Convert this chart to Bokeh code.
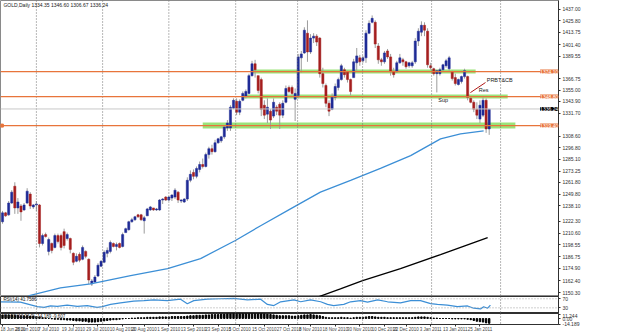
from bokeh.plotting import figure
from bokeh.models import Range1d, LinearAxis, FixedTicker, Span, Label, ColumnDataSource, PrintfTickFormatter
from bokeh.layouts import column
from bokeh.embed import file_html
from bokeh.resources import INLINE

# ---------------- data ----------------
opens = [1222,1231,1229,1241,1258,1236,1238,1234,1241,1250,1237,1239,1239,1200,1209,1192,1200,1196,1208,1208,
         1212,1205,1205,1190,1182,1189,1184,1192,1184,1159,1161,1167,1177,1181,1190,1192,1200,1197,1200,1197,
         1211,1214,1222,1224,1229,1229,1223,1228,1234,1236,1234,1234,1244,1247,1244,1246,1247,1252,1243,1242,
         1245,1264,1272,1268,1275,1280,1278,1290,1296,1293,1302,1304,1308,1317,1317,1337,1344,1333,1345,1349,
         1352,1370,1382,1370,1366,1340,1331,1334,1329,1338,1341,1330,1343,1358,1358,1346,1350,1388,1393,1413,
         1394,1408,1410,1408,1372,1360,1342,1336,1348,1358,1366,1376,1374,1366,1368,1383,1388,1385,1388,1413,
         1424,1424,1400,1386,1384,1395,1389,1374,1374,1383,1386,1384,1380,1380,1384,1405,1414,1421,1415,1380,
         1377,1372,1372,1376,1380,1377,1374,1368,1361,1364,1369,1369,1347,1343,1336,1326,1330,1345,1316]
highs = [1233,1232,1243,1254,1262,1246,1240,1241,1256,1252,1240,1243,1240,1210,1211,1206,1201,1210,1210,1210,
         1215,1211,1206,1191,1190,1191,1198,1193,1185,1164,1168,1180,1183,1193,1196,1203,1201,1201,1201,1211,
         1216,1223,1226,1228,1230,1230,1228,1236,1238,1236,1236,1245,1246,1248,1248,1250,1256,1253,1245,1246,
         1267,1274,1275,1278,1283,1286,1292,1298,1300,1305,1307,1309,1320,1325,1340,1347,1347,1346,1354,1356,
         1372,1385,1386,1370,1368,1345,1347,1336,1347,1340,1343,1345,1360,1360,1360,1357,1392,1395,1419,1426,
         1412,1413,1412,1409,1378,1362,1345,1352,1362,1368,1382,1378,1375,1367,1387,1398,1391,1390,1416,1426,
         1431,1426,1403,1388,1395,1397,1392,1378,1385,1392,1388,1385,1384,1385,1408,1418,1425,1424,1418,1383,
         1378,1376,1378,1382,1387,1390,1375,1372,1367,1370,1377,1370,1348,1345,1343,1345,1348,1347,1335]
lows = [1220,1227,1228,1240,1230,1230,1223,1233,1240,1235,1235,1233,1196,1198,1206,1188,1190,1195,1200,1193,
        1195,1203,1190,1178,1181,1181,1183,1185,1159,1157,1160,1166,1176,1180,1186,1190,1196,1193,1195,1196,
        1211,1213,1221,1223,1226,1223,1210,1228,1233,1233,1233,1233,1240,1243,1243,1243,1245,1241,1241,1241,
        1243,1262,1265,1266,1272,1276,1277,1286,1290,1292,1301,1302,1306,1314,1314,1336,1330,1330,1344,1347,
        1351,1369,1368,1352,1329,1326,1322,1316,1327,1330,1316,1327,1342,1352,1350,1324,1347,1373,1392,1384,
        1392,1403,1400,1368,1358,1338,1329,1335,1345,1355,1365,1368,1363,1350,1368,1375,1380,1383,1383,1412,
        1423,1398,1382,1380,1382,1387,1370,1368,1373,1382,1380,1377,1378,1378,1382,1400,1410,1410,1378,1376,
        1370,1353,1370,1375,1378,1375,1365,1360,1360,1362,1367,1345,1342,1333,1326,1322,1328,1312,1310]
closes = [1231,1228,1241,1252,1236,1242,1232,1239,1253,1238,1239,1240,1200,1208,1207,1204,1193,1208,1202,1196,
          1198,1209,1194,1181,1187,1183,1196,1187,1163,1162,1166,1178,1182,1191,1193,1201,1197,1199,1196,1209,
          1215,1222,1224,1227,1227,1224,1226,1235,1237,1234,1235,1244,1245,1244,1247,1249,1254,1244,1244,1245,
          1264,1270,1268,1276,1280,1278,1290,1296,1293,1302,1306,1308,1318,1322,1338,1345,1333,1344,1352,1354,
          1370,1382,1376,1355,1336,1330,1338,1325,1343,1334,1330,1342,1357,1354,1352,1352,1389,1392,1416,1394,
          1408,1410,1404,1372,1362,1342,1334,1349,1359,1366,1380,1371,1366,1354,1384,1390,1384,1388,1413,1423,
          1428,1402,1386,1384,1393,1389,1374,1371,1383,1388,1384,1379,1383,1383,1405,1415,1421,1416,1381,1378,
          1372,1375,1376,1381,1385,1388,1367,1362,1366,1369,1375,1348,1343,1336,1330,1340,1345,1316,1336]

# moving averages
ma_blue_x = [8.4, 18.8, 28.6, 41.6, 53.6, 64.3, 75.6, 83.8, 93.5, 103.2, 113, 122.7, 132.5, 142.2, 148.7, 156.2]
ma_blue_y = [1147, 1155, 1159, 1167.5, 1174.6, 1184.7, 1203, 1218, 1235, 1252, 1264, 1276, 1289, 1306, 1311, 1314]
ma_black_x = [102.6, 109.7, 116.9, 129.2, 142.2, 157.5]
ma_black_y = [1146, 1154, 1162.4, 1174.6, 1188.8, 1206]

rsi_x = [-0.6, 5.8, 11.3, 13.5, 15.6, 17.8, 21, 24.3, 27.5, 30.7, 32.4, 35.1, 38.3, 42.6, 45.9, 49.1, 53.5, 57.8,
         60, 62.1, 66.5, 70.8, 75.1, 79.5, 83.8, 86, 88.1, 90.3, 94.6, 96.8, 100, 103.3, 105.5, 107.5, 110.8, 113,
         116.2, 118.5, 121.8, 125, 129.2, 132.5, 135.7, 139, 141.2, 144.4, 147.7, 151, 153, 155.2, 156.2, 157.5, 158.4]
rsi_v = [56.7, 55, 35, 31.7, 38.3, 36.7, 41.7, 36.7, 40, 31.7, 35, 45, 51.7, 60, 61.7, 65, 61.7, 68.3,
         48.3, 61.7, 68.3, 70, 71.7, 65, 68.3, 45, 40, 56.7, 65, 56.7, 65, 56.7, 45, 40, 45, 56.7,
         61.7, 55, 65, 56.7, 51.7, 61.7, 61.7, 48.3, 45, 41.7, 35, 38.3, 28.3, 25, 35, 28.3, 41.7]

macd = [9,9,9,9,8,8,7,7,7,6,6,5,4,
        2,1,0,-1,-2,-2,-3,-3,-4,-4,-5,-6,-6,-7,-7,-9,-9,-9,
        -8,-7,-6,-5,-4,-3,-3,-2,-1,0,0,1,1,2,2,
        2,3,3,3,3,4,4,4,4,5,5,5,5,5,6,
        7,7,8,8,8,9,9,10,10,10,11,11,12,12,13,13,13,14,14,15,
        15,15,14,13,12,11,10,9,8,7,7,7,7,6,6,
        7,8,9,9,10,9,8,7,5,3,2,2,2,2,3,
        2,2,1,2,3,3,3,4,5,5,4,3,3,3,2,2,2,2,2,2,2,2,2,3,
        4,4,4,3,2,1,1,0,0,0,0,-1,-1,-1,-1,-1,-2,-3,-5,-7,-8,-9,-11,-12]

date_labels = ["18 Jun 2010", "28 Jun 2010", "7 Jul 2010", "19 Jul 2010", "29 Jul 2010", "10 Aug 2010",
               "20 Aug 2010", "1 Sep 2010", "13 Sep 2010", "23 Sep 2010", "5 Oct 2010", "15 Oct 2010",
               "27 Oct 2010", "8 Nov 2010", "18 Nov 2010", "30 Nov 2010", "10 Dec 2010", "22 Dec 2010",
               "3 Jan 2011", "13 Jan 2011", "25 Jan 2011"]
date_ticks = [0, 8, 15, 23, 31, 39, 46, 54, 62, 70, 77, 85, 93, 100, 108, 116, 124, 131, 139, 147, 155]

price_ticks = [1437.00, 1425.80, 1413.75, 1401.40, 1389.55, 1366.75, 1355.00, 1343.90, 1331.70, 1308.60,
               1296.80, 1285.10, 1273.25, 1261.80, 1249.80, 1238.10, 1222.30, 1210.60, 1198.55, 1186.75,
               1174.90, 1162.40, 1150.30]

levels = [1374.1, 1348.8, 1319.4]
level_labels = ["1374.10", "1348.80", "1319.40"]
band_start = [81, 78, 65]
band_end = [153.6, 164, 166.5]
bid = 1336.24
grid_x = [11, 32.5, 54, 75.7, 95.8, 116.9, 139.3, 161.7]

# ---------------- drawing ----------------
FONT = "Liberation Sans"
XR = Range1d(-0.65, 180.5)
BLUE_LINE = "#3c8fd6"
ORANGE = "#e8743b"


def panel(height, yr, bottom=0):
    p = figure(width=625, height=height, x_range=XR, y_range=yr, output_backend="svg",
               toolbar_location=None, x_axis_location=None, y_axis_location=None,
               min_border_left=0, min_border_top=0, min_border_bottom=bottom, min_border_right=67)
    p.xgrid.visible = False
    p.ygrid.visible = False
    p.background_fill_color = "white"
    p.border_fill_color = "white"
    p.outline_line_color = "#303030"
    p.outline_line_width = 1
    for g in grid_x:
        p.add_layout(Span(location=g, dimension="height", line_color="#707070",
                          line_dash="1 2", line_width=1))
    return p


def right_axis(p, ticks, fmt=None, overrides=None):
    ax = LinearAxis(ticker=FixedTicker(ticks=ticks))
    if fmt:
        ax.formatter = PrintfTickFormatter(format=fmt)
    if overrides:
        ax.major_label_overrides = overrides
    ax.major_label_text_font = FONT
    ax.major_label_text_font_size = "5px"
    ax.major_label_text_color = "#303030"
    ax.major_tick_out = 2
    ax.major_tick_in = 0
    ax.minor_tick_out = 0
    ax.minor_tick_in = 0
    ax.major_label_standoff = 2
    ax.axis_line_color = "#303030"
    ax.major_tick_line_color = "#303030"
    p.add_layout(ax, "right")
    return ax


# main chart
main = panel(296, Range1d(1146.3, 1446.1))
main.outline_line_color = "#8a8a8a"
right_axis(main, price_ticks, fmt="%.2f")

idx = list(range(len(closes)))
tops = [max(o, c) for o, c in zip(opens, closes)]
bots = [min(o, c) for o, c in zip(opens, closes)]
cols = ["#1f2b96" if c >= o else "#a51e1e" for o, c in zip(opens, closes)]
src = ColumnDataSource(dict(x=idx, h=highs, l=lows, t=tops, b=bots, c=cols))

main.add_layout(Span(location=bid, dimension="width", line_color="#c8c8c8", line_width=1))
main.segment(x0=band_start, x1=band_end, y0=levels, y1=levels, line_color="#8fe06a",
             line_width=[4, 4, 6], line_alpha=0.9)
for lv in levels:
    main.add_layout(Span(location=lv, dimension="width", line_color=ORANGE, line_width=1.2))
main.scatter(x=[-0.2], y=[levels[2]], size=3, marker="square", color=ORANGE)

main.segment(x0="x", x1="x", y0="l", y1="h", source=src, line_color="#9c9c9c", line_width=1)
main.vbar(x="x", width=0.7, top="t", bottom="b", source=src, fill_color="c", line_color="c", line_width=0.5)

main.line(ma_blue_x, ma_blue_y, line_color=BLUE_LINE, line_width=1.3)
main.line(ma_black_x, ma_black_y, line_color="black", line_width=1.3)

# annotations
main.line([151.9, 156.8], [1352.8, 1363.0], line_color="#b01818", line_width=1)
for txt, xx, yy in [("PRBT&CB", 157.2, 1366.0), ("Res", 154.6, 1355.5), ("Sup", 141.5, 1345.0)]:
    main.add_layout(Label(x=xx, y=yy, text=txt, text_font=FONT, text_font_size="5.5px",
                          text_color="#202020", text_baseline="middle"))

# price boxes at the right edge of the chart
for lv, lab in zip(levels, level_labels):
    main.add_layout(Label(x=180.4, y=lv, text=lab, text_font=FONT, text_font_size="5px",
                          text_color="white", text_baseline="middle", text_align="right",
                          background_fill_color=ORANGE))
main.add_layout(Label(x=180.4, y=bid, text="1336.24", text_font=FONT, text_font_size="5px",
                      text_color="white", text_baseline="middle", text_align="right",
                      background_fill_color="black"))
main.add_layout(Label(x=0.3, y=1444.5, text="GOLD,Daily  1334.35 1346.60 1306.67 1336.24",
                      text_font=FONT, text_font_size="5px", text_color="#202020", text_baseline="top"))

# RSI panel
rsi = panel(17, Range1d(5, 80))
right_axis(rsi, [70, 30], fmt="%d")
for lv in [70, 30]:
    rsi.add_layout(Span(location=lv, dimension="width", line_color="#a0a0a0", line_dash="1 2", line_width=1))
rsi.line(rsi_x, rsi_v, line_color=BLUE_LINE, line_width=1.2)
rsi.add_layout(Label(x=0.3, y=79, text="RSI(14) 41.7586", text_font=FONT, text_font_size="4.5px",
                     text_color="#202020", text_baseline="top"))

# MACD panel with date axis
mac = panel(21, Range1d(-15, 12.5), bottom=0)
right_axis(mac, [11.244, 0, -14.189], overrides={11.244: "11.244", 0: "0.00", -14.189: "-14.189"})
mac.vbar(x=idx, width=0.45, top=macd, bottom=0, fill_color="black", line_color="black")
mac.add_layout(Label(x=0.3, y=12.3, text="MACD(12,26,9) -14.189 -9.607", text_font=FONT,
                     text_font_size="4.5px", text_color="#202020", text_baseline="top"))
dax = LinearAxis(ticker=FixedTicker(ticks=date_ticks),
                 major_label_overrides={t: s for t, s in zip(date_ticks, date_labels)})
dax.major_label_text_font = FONT
dax.major_label_text_font_size = "4.5px"
dax.major_label_text_align = "left"
dax.major_label_standoff = 0
dax.major_tick_out = 2
dax.major_tick_in = 0
dax.minor_tick_out = 0
dax.minor_tick_in = 0
dax.axis_line_color = None
dax.major_tick_line_color = "#303030"
mac.add_layout(dax, "below")

layout = column(main, rsi, mac, spacing=0)
open("out.html", "w").write(file_html(layout, INLINE))
